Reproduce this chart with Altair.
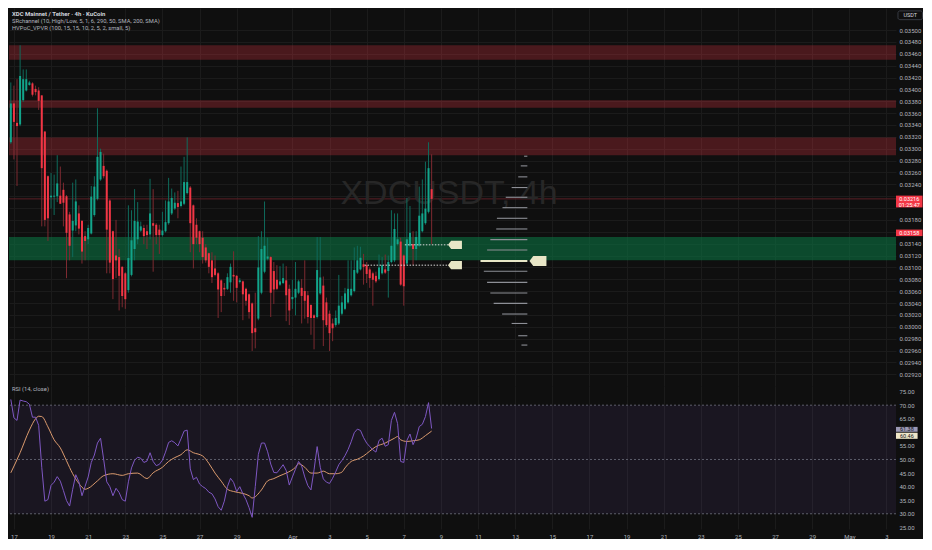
import altair as alt
import pandas as pd

# ---------------- data ----------------
CANDLE_START = "2025-03-16 20:00"   # 4h candles

OPEN = [0.033109, 0.033763, 0.033436, 0.033409, 0.033818, 0.033981, 0.034074, 0.034101, 0.034008, 0.033981,
        0.033899, 0.033289, 0.032537, 0.032182, 0.032193, 0.032199, 0.032209, 0.032308, 0.032199, 0.031893,
        0.031621, 0.031708, 0.031910, 0.031784, 0.031528, 0.031474, 0.031572, 0.031883, 0.032155, 0.032482,
        0.032711, 0.032629, 0.032128, 0.031610, 0.031201, 0.031174, 0.031010, 0.030901, 0.030618, 0.030874,
        0.031310, 0.031474, 0.031621, 0.031665, 0.031610, 0.031556, 0.031746, 0.031719, 0.031637, 0.031545,
        0.031610, 0.031746, 0.031910, 0.031992, 0.032084, 0.032035, 0.032073, 0.032253, 0.032346, 0.032046,
        0.031719, 0.031610, 0.031501, 0.031337, 0.031239, 0.031119, 0.030983, 0.030901, 0.030782, 0.030656,
        0.030639, 0.030749, 0.030874, 0.030858, 0.030754, 0.030765, 0.030640, 0.030547, 0.030394, 0.029975,
        0.030138, 0.030574, 0.030929, 0.031147, 0.031174, 0.030939, 0.030792, 0.030710, 0.030738, 0.030782,
        0.030640, 0.030465, 0.030492, 0.030574, 0.030656, 0.030602, 0.030531, 0.030367, 0.030193, 0.030165,
        0.030563, 0.030694, 0.030411, 0.030220, 0.030056, 0.030029, 0.030056, 0.030220, 0.030302, 0.030411,
        0.030531, 0.030602, 0.030912, 0.030967, 0.031054, 0.031038, 0.030967, 0.030901, 0.030858, 0.030803,
        0.030901, 0.030967, 0.030939, 0.031092, 0.031119, 0.031392, 0.031436, 0.031201, 0.031065, 0.031365,
        0.031392, 0.031310, 0.031365, 0.031610, 0.031746, 0.031937, 0.032319]
HIGH = [0.034117, 0.034063, 0.034172, 0.034744, 0.034336, 0.034336, 0.034145, 0.034120, 0.034063, 0.034036,
        0.033900, 0.033300, 0.032550, 0.032591, 0.032564, 0.032891, 0.032700, 0.032428, 0.032220, 0.031937,
        0.032428, 0.032482, 0.032046, 0.031800, 0.031610, 0.031719, 0.032373, 0.032537, 0.033681, 0.033000,
        0.032918, 0.032650, 0.032150, 0.031620, 0.031801, 0.031310, 0.031020, 0.030920, 0.032046, 0.031964,
        0.032319, 0.032101, 0.031773, 0.031719, 0.031719, 0.032493, 0.032319, 0.031746, 0.031719, 0.031937,
        0.032128, 0.032509, 0.032329, 0.032264, 0.032291, 0.032700, 0.032864, 0.033191, 0.032373, 0.032060,
        0.031828, 0.031620, 0.031610, 0.031392, 0.031250, 0.031256, 0.031201, 0.030920, 0.030800, 0.030738,
        0.030901, 0.031065, 0.031272, 0.030874, 0.030820, 0.030780, 0.030660, 0.030560, 0.030410, 0.030574,
        0.031528, 0.031610, 0.032111, 0.031501, 0.031190, 0.031092, 0.031038, 0.031021, 0.031065, 0.031021,
        0.030710, 0.030792, 0.031092, 0.030792, 0.030803, 0.031119, 0.030602, 0.030380, 0.030210, 0.031512,
        0.031512, 0.030847, 0.030492, 0.030275, 0.030138, 0.030275, 0.030874, 0.030520, 0.030656, 0.031119,
        0.031119, 0.031337, 0.031365, 0.031348, 0.031228, 0.031092, 0.031000, 0.030929, 0.030929, 0.031217,
        0.031174, 0.031217, 0.031201, 0.031964, 0.031910, 0.031910, 0.031501, 0.031220, 0.032171, 0.032035,
        0.031610, 0.031610, 0.032362, 0.032482, 0.032782, 0.033109, 0.032907]
LOW = [0.033082, 0.032820, 0.032373, 0.033380, 0.033790, 0.033965, 0.034063, 0.033880, 0.033900, 0.033654,
       0.031692, 0.031692, 0.031447, 0.031992, 0.031883, 0.032101, 0.032070, 0.031692, 0.030819, 0.031119,
       0.031174, 0.031610, 0.031556, 0.031065, 0.031119, 0.031392, 0.031556, 0.031856, 0.032130, 0.032460,
       0.032500, 0.030901, 0.030901, 0.030465, 0.030819, 0.030275, 0.030329, 0.030302, 0.030575, 0.030850,
       0.031119, 0.031392, 0.031600, 0.031392, 0.031310, 0.031474, 0.030928, 0.031392, 0.031228, 0.031520,
       0.031590, 0.031720, 0.031883, 0.031970, 0.031828, 0.032010, 0.032050, 0.032230, 0.031256, 0.030983,
       0.031392, 0.031256, 0.031065, 0.031080, 0.030901, 0.030738, 0.030850, 0.030149, 0.030247, 0.030519,
       0.030620, 0.030575, 0.030438, 0.030411, 0.030730, 0.030111, 0.030356, 0.030138, 0.029593, 0.029637,
       0.030110, 0.030547, 0.030901, 0.031120, 0.030165, 0.030384, 0.030620, 0.030690, 0.030720, 0.030095,
       0.030029, 0.030302, 0.030193, 0.030550, 0.030056, 0.030138, 0.030056, 0.029866, 0.029620, 0.030140,
       0.030540, 0.029675, 0.030000, 0.029593, 0.029757, 0.030000, 0.030030, 0.030193, 0.030280, 0.030390,
       0.030510, 0.030580, 0.030890, 0.030950, 0.030710, 0.030738, 0.030656, 0.030356, 0.030738, 0.030780,
       0.030880, 0.030890, 0.030492, 0.031070, 0.031090, 0.031370, 0.030690, 0.030356, 0.031040, 0.031340,
       0.031038, 0.031120, 0.031340, 0.031590, 0.031720, 0.031910, 0.031392]
CLOSE = [0.033763, 0.033452, 0.033382, 0.034226, 0.034172, 0.034172, 0.034117, 0.033910, 0.033954, 0.033807,
         0.032673, 0.031801, 0.031828, 0.032209, 0.032209, 0.032416, 0.032073, 0.032090, 0.031583, 0.031365,
         0.031784, 0.032112, 0.031654, 0.031267, 0.031447, 0.031665, 0.032193, 0.032362, 0.032864, 0.032946,
         0.032537, 0.031637, 0.031081, 0.030803, 0.031119, 0.030858, 0.030519, 0.030465, 0.031158, 0.031457,
         0.031784, 0.031773, 0.031692, 0.031528, 0.031545, 0.031910, 0.031703, 0.031545, 0.031545, 0.031621,
         0.031763, 0.032112, 0.032171, 0.032090, 0.032019, 0.032112, 0.032438, 0.032438, 0.031746, 0.031392,
         0.031501, 0.031392, 0.031174, 0.031119, 0.031010, 0.030836, 0.030874, 0.030629, 0.030519, 0.030629,
         0.030836, 0.031010, 0.030847, 0.030656, 0.030782, 0.030547, 0.030438, 0.030247, 0.029893, 0.029909,
         0.031000, 0.031310, 0.031365, 0.031185, 0.030574, 0.030629, 0.030640, 0.030765, 0.030820, 0.030531,
         0.030275, 0.030503, 0.030640, 0.030765, 0.030520, 0.030438, 0.030165, 0.030149, 0.030149, 0.030956,
         0.030831, 0.030111, 0.030029, 0.029893, 0.029975, 0.030149, 0.030356, 0.030411, 0.030563, 0.030640,
         0.030640, 0.030956, 0.031119, 0.031163, 0.031010, 0.030890, 0.030820, 0.030792, 0.030765, 0.031000,
         0.031038, 0.030912, 0.031092, 0.031365, 0.031648, 0.031474, 0.030710, 0.030683, 0.031474, 0.031583,
         0.031310, 0.031512, 0.031872, 0.031910, 0.031992, 0.032673, 0.032155]

RSI = [72.13, 65.34, 64.39, 71.89, 71.53, 71.29, 70.34, 65.58, 65.58, 62.60,
       47.13, 34.63, 35.22, 40.46, 41.65, 43.68, 42.01, 38.56, 34.87, 32.84,
       39.03, 44.39, 41.77, 36.65, 40.10, 43.56, 48.91, 51.65, 56.06, 57.84,
       50.10, 41.77, 39.99, 36.65, 39.39, 37.84, 35.22, 34.63, 41.77, 46.89,
       49.75, 50.82, 50.46, 48.91, 49.39, 52.49, 49.27, 47.72, 48.20, 49.75,
       52.72, 56.29, 56.89, 56.18, 54.99, 57.60, 60.46, 60.82, 46.53, 42.60,
       43.44, 40.94, 39.99, 39.27, 37.96, 37.37, 35.46, 32.60, 31.29, 34.63,
       39.99, 43.08, 41.53, 38.20, 39.99, 37.37, 35.22, 32.25, 28.68, 39.99,
       51.89, 56.06, 56.06, 52.84, 48.32, 45.22, 45.10, 46.53, 48.08, 45.94,
       40.58, 43.56, 46.41, 49.27, 47.60, 43.56, 40.34, 38.79, 46.18, 54.75,
       47.13, 42.84, 41.65, 41.18, 43.08, 45.46, 48.08, 49.63, 51.41, 53.68,
       56.53, 59.87, 61.18, 60.70, 58.08, 56.06, 54.75, 53.56, 52.72, 57.01,
       57.84, 54.87, 55.46, 64.39, 67.37, 63.20, 49.27, 48.91, 57.01, 59.39,
       55.46, 57.84, 62.13, 62.96, 65.82, 70.94, 61.41]

RSI_MA_IDX = [0, 3, 6, 8, 9, 10, 12, 14, 16, 18, 20, 22, 24, 25, 28, 30, 33, 36, 38, 41,
              44, 46, 49, 51, 53, 55, 57, 59, 62, 64, 66, 68, 70, 72, 75, 77, 78, 81, 83, 85,
              87, 89, 92, 93, 95, 97, 99, 101, 103, 105, 107, 108, 110, 112, 114, 116, 118, 121, 122, 124,
              125, 126, 128, 130, 132, 134, 136]
RSI_MA = [45.10, 52.49, 60.82, 64.99, 65.94, 65.82, 62.01, 57.25, 54.27, 49.51, 44.75, 41.18, 39.03, 39.39,
          42.13, 44.03, 44.75, 44.15, 44.75, 44.99, 42.96, 45.10, 47.13, 49.27, 50.70, 51.77, 53.56, 52.49,
          51.29, 48.56, 44.99, 42.01, 39.03, 38.20, 37.49, 36.65, 35.82, 38.79, 42.13, 42.96, 44.03, 44.99,
          47.13, 48.44, 47.13, 44.99, 44.99, 45.70, 44.75, 44.75, 45.34, 46.89, 49.27, 50.10, 51.29, 53.08,
          54.75, 56.06, 56.65, 57.84, 58.44, 57.25, 56.65, 56.89, 57.25, 58.79, 60.46]

# SR channel zones
RES_TOP = [0.034745, 0.033818, 0.033191]
RES_BOT = [0.034500, 0.033692, 0.032890]
SUP_TOP = [0.031512]
SUP_BOT = [0.031119]

# visible-range volume profile (price level, relative volume)
VP_PRICE = [0.032874, 0.032711, 0.032526, 0.032346, 0.032182, 0.032007, 0.031828, 0.031648, 0.031468, 0.031294,
            0.030935, 0.030748, 0.030568, 0.030395, 0.030215, 0.030056, 0.029849, 0.029692]
VP_VOL = [3.3, 6.7, 9.3, 16.0, 22.0, 25.3, 31.0, 31.7, 37.7, 41.0,
          44.3, 41.0, 37.7, 34.3, 25.7, 16.0, 9.3, 6.0]
POC_PRICE = 0.031108
POC_VOL = 47.7

# HVPoC levels (dotted) with tags
LEVEL_PRICE = [0.031381, 0.031038]
LEVEL_START = ["2025-04-07 01:24", "2025-04-04 21:20"]
LEVEL_END = ["2025-04-09 09:16", "2025-04-09 09:16"]
TAG_TIME = ["2025-04-09 18:10", "2025-04-09 18:10"]
POC_TAG_TIME = "2025-04-14 05:28"

LAST_PRICE = 0.032155
LAST_LABEL = ["0.03216", "01:25:47"]
ALT_PRICE_LABEL = "0.03158"
RSI_LABELS = ["61.38", "60.46"]

PRICE_TICKS = [0.0292, 0.0294, 0.0296, 0.0298, 0.0300, 0.0302, 0.0304, 0.0306, 0.0308, 0.0310,
               0.0312, 0.0314, 0.0316, 0.0318, 0.0320, 0.0322, 0.0324, 0.0326, 0.0328, 0.0330,
               0.0332, 0.0334, 0.0336, 0.0338, 0.0340, 0.0342, 0.0344, 0.0346, 0.0348, 0.0350]
RSI_TICKS = [25, 30, 35, 40, 45, 50, 55, 60, 65, 70, 75]
DATE_TICKS = [(3, 17), (3, 19), (3, 21), (3, 23), (3, 25), (3, 27), (3, 29),
              (4, 1), (4, 3), (4, 5), (4, 7), (4, 9), (4, 11), (4, 13), (4, 15), (4, 17),
              (4, 19), (4, 21), (4, 23), (4, 25), (4, 27), (4, 29), (5, 1), (5, 3)]

LEGEND_TITLE = "XDC Mainnet / Tether · 4h · KuCoin"
LEGEND_IND = ["SRchannel (10, High/Low, 5, 1, 6, 290, 50, SMA, 200, SMA)",
              "HVPoC_VPVR (100, 15, 15, 10, 2, 5, 2, small, 5)"]

# ---------------- layout / style ----------------
W, H1, H2 = 887, 378, 143
P_DOM = [0.0290023, 0.0353712]
R_DOM = [24.39, 77.07]
T0, T1 = "2025-03-16 17:39", "2025-05-03 12:19"
XDOM = [alt.DateTime(year=2025, month=3, date=16, hours=17, minutes=39),
        alt.DateTime(year=2025, month=5, date=3, hours=12, minutes=19)]
XTICKS = [alt.DateTime(year=2025, month=m, date=d) for m, d in DATE_TICKS]

FONT = "Roboto"
LAB = "#b2b5be"
GRID = "#1b1b1b"
UP, DOWN = "#12a58b", "#f23645"
UP_W, DOWN_W = "#0f6b5c", "#7d2a31"

price_axis = alt.Axis(orient="right", values=PRICE_TICKS, format=".5f", labelFontSize=6,
                      labelExpr="(datum.value == 0.0322 || datum.value == 0.032 || datum.value == 0.0316) ? '' : datum.label",
                      labelColor=LAB, labelFont=FONT, ticks=False, domain=False, grid=True,
                      gridColor=GRID, labelPadding=3, title=None)
rsi_axis = alt.Axis(orient="right", values=RSI_TICKS, format=".2f", labelFontSize=6,
                    labelExpr="datum.value == 60 ? '' : datum.label",
                    labelColor=LAB, labelFont=FONT, ticks=False, domain=False, grid=False,
                    labelPadding=3, title=None)
x_main_axis = alt.Axis(values=XTICKS, labels=False, ticks=False, domain=False, grid=True,
                       gridColor=GRID, title=None)
x_rsi_axis = alt.Axis(values=XTICKS,
                      labelExpr="date(datum.value) == 1 ? timeFormat(datum.value, '%b') : timeFormat(datum.value, '%-d')",
                      labelFontSize=6, labelColor=LAB, labelFont=FONT, ticks=False, domain=False,
                      grid=True, gridColor=GRID, labelPadding=4, labelOverlap=False,
                      labelFlush=False, title=None)


def XM(f):
    return alt.X(f, type="temporal", scale=alt.Scale(domain=XDOM, padding=0, nice=False), axis=x_main_axis)


def XR(f):
    return alt.X(f, type="temporal", scale=alt.Scale(domain=XDOM, padding=0, nice=False), axis=x_rsi_axis)


def YP(f):
    return alt.Y(f, type="quantitative", scale=alt.Scale(domain=P_DOM, nice=False, zero=False, padding=0),
                 axis=price_axis)


def YR(f):
    return alt.Y(f, type="quantitative", scale=alt.Scale(domain=R_DOM, nice=False, zero=False, padding=0),
                 axis=rsi_axis)


# ---------------- tables ----------------
times = pd.date_range(CANDLE_START, periods=len(OPEN), freq="4h")
cdf = pd.DataFrame({"t": times, "o": OPEN, "h": HIGH, "l": LOW, "c": CLOSE})
cdf["h"] = cdf[["h", "o", "c"]].max(axis=1)
cdf["l"] = cdf[["l", "o", "c"]].min(axis=1)
up_df = cdf[cdf["c"] >= cdf["o"]]
dn_df = cdf[cdf["c"] < cdf["o"]]

res_df = pd.DataFrame({"x0": pd.to_datetime([T0] * 3), "x1": pd.to_datetime([T1] * 3),
                       "top": RES_TOP, "bot": RES_BOT})
sup_df = pd.DataFrame({"x0": pd.to_datetime([T0]), "x1": pd.to_datetime([T1]),
                       "top": SUP_TOP, "bot": SUP_BOT})

vdf = pd.DataFrame({"p": VP_PRICE, "vol": VP_VOL, "zero": [0.0] * len(VP_VOL)})
pocv = pd.DataFrame({"p": [POC_PRICE], "vol": [POC_VOL], "zero": [0.0]})

ldf = pd.DataFrame({"x0": pd.to_datetime(LEVEL_START), "x1": pd.to_datetime(LEVEL_END), "p": LEVEL_PRICE})
tdf = pd.DataFrame({"t": pd.to_datetime(TAG_TIME), "p": LEVEL_PRICE})
pocdf = pd.DataFrame({"t": pd.to_datetime([POC_TAG_TIME]), "p": [POC_PRICE]})

leg1 = pd.DataFrame({"t": pd.to_datetime(["2025-03-16 21:28"]), "p": [0.035273], "txt": [LEGEND_TITLE]})
leg2 = pd.DataFrame({"t": pd.to_datetime(["2025-03-16 21:28"] * 2), "p": [0.035154, 0.035033],
                     "txt": LEGEND_IND})

boxdf = pd.DataFrame({"x0": pd.to_datetime(["2025-05-03 12:19", "2025-05-03 12:19"]),
                      "x1": pd.to_datetime(["2025-05-04 22:36", "2025-05-04 22:36"]),
                      "top": [0.032210, 0.031638], "bot": [0.032011, 0.031528]})
boxtxt = pd.DataFrame({"t": pd.to_datetime(["2025-05-04 05:28"] * 3),
                       "p": [0.032160, 0.032060, 0.031582],
                       "txt": [LAST_LABEL[0], LAST_LABEL[1], ALT_PRICE_LABEL]})
usdt_box = pd.DataFrame({"x0": pd.to_datetime(["2025-05-03 14:51"]), "x1": pd.to_datetime(["2025-05-04 22:36"]),
                         "top": [0.035322], "bot": [0.035175]})
usdt_txt = pd.DataFrame({"t": pd.to_datetime(["2025-05-04 06:43"]), "p": [0.035249], "txt": ["USDT"]})
wm = pd.DataFrame({"t": pd.to_datetime(["2025-04-09 10:34"]), "p": [0.032230], "txt": ["XDCUSDT, 4h"]})

# ---------------- main pane ----------------
res_z = alt.Chart(res_df).mark_rect(color="#f23645", opacity=0.26).encode(
    x=XM("x0"), x2="x1", y=YP("top"), y2="bot")
sup_z = alt.Chart(sup_df).mark_rect(color="#0a7a45", opacity=0.56).encode(
    x=XM("x0"), x2="x1", y=YP("top"), y2="bot")
pline = alt.Chart(pd.DataFrame({"p": [LAST_PRICE]})).mark_rule(color="#5c1f25", strokeWidth=1).encode(y=YP("p"))
water = alt.Chart(wm).mark_text(font="Liberation Sans", fontSize=34, color="#272727",
                                align="center", baseline="middle").encode(x=XM("t"), y=YP("p"), text="txt:N")
wick_up = alt.Chart(up_df).mark_rule(strokeWidth=1, color=UP_W).encode(x=XM("t"), y=YP("l"), y2="h")
wick_dn = alt.Chart(dn_df).mark_rule(strokeWidth=1, color=DOWN_W).encode(x=XM("t"), y=YP("l"), y2="h")
body_up = alt.Chart(up_df).mark_bar(size=2, color=UP).encode(x=XM("t"), y=YP("o"), y2="c")
body_dn = alt.Chart(dn_df).mark_bar(size=2, color=DOWN).encode(x=XM("t"), y=YP("o"), y2="c")
levels = alt.Chart(ldf).mark_rule(color="#d8d8d8", strokeWidth=1, strokeDash=[1.5, 1.5]).encode(
    x=XM("x0"), x2="x1", y=YP("p"))
TAG_SHAPE = "M -1 0 L -0.55 -0.59 L 1 -0.59 L 1 0.59 L -0.55 0.59 Z"
tags = alt.Chart(tdf).mark_point(shape=TAG_SHAPE, filled=True, size=196, color="#e8e6c6", opacity=1).encode(
    x=XM("t"), y=YP("p"))
poc_tag = alt.Chart(pocdf).mark_point(shape=TAG_SHAPE, filled=True, size=289, color="#e8e6c6", opacity=1).encode(
    x=XM("t"), y=YP("p"))
legend1 = alt.Chart(leg1).mark_text(font=FONT, fontSize=6, fontWeight="bold", color="#d1d4dc",
                                    align="left", baseline="middle").encode(x=XM("t"), y=YP("p"), text="txt:N")
legend2 = alt.Chart(leg2).mark_text(font=FONT, fontSize=5.8, color=LAB,
                                    align="left", baseline="middle").encode(x=XM("t"), y=YP("p"), text="txt:N")
boxes = alt.Chart(boxdf).mark_rect(color=DOWN).encode(x=XM("x0"), x2="x1", y=YP("top"), y2="bot")
box_text = alt.Chart(boxtxt).mark_text(font=FONT, fontSize=5.5, color="#ffffff", align="center",
                                       baseline="middle").encode(x=XM("t"), y=YP("p"), text="txt:N")
ubox = alt.Chart(usdt_box).mark_rect(fill="#0f0f0f", stroke="#434651", strokeWidth=0.8, cornerRadius=2).encode(
    x=XM("x0"), x2="x1", y=YP("top"), y2="bot")
utxt = alt.Chart(usdt_txt).mark_text(font=FONT, fontSize=5.5, color="#d1d4dc", align="center",
                                     baseline="middle").encode(x=XM("t"), y=YP("p"), text="txt:N")

time_layer = alt.layer(res_z, sup_z, pline, water, wick_up, wick_dn, body_up, body_dn, levels, tags,
                       poc_tag, legend1, legend2, boxes, box_text, ubox, utxt)

VP_X = alt.Scale(domain=[-375.3, 527.7], reverse=True, nice=False, zero=False, padding=0)
vp_rows = alt.Chart(vdf).mark_rule(color="#8d8f96", strokeWidth=1.1).encode(
    x=alt.X("vol:Q", scale=VP_X, axis=None), x2="zero", y=YP("p"))
vp_poc = alt.Chart(pocv).mark_rule(color="#e8e6c6", strokeWidth=1.8).encode(
    x=alt.X("vol:Q", scale=VP_X, axis=None), x2="zero", y=YP("p"))
vp_layer = alt.layer(vp_rows, vp_poc)

main = alt.layer(time_layer, vp_layer).resolve_scale(x="independent").properties(width=W, height=H1)

# ---------------- RSI pane ----------------
rdf = pd.DataFrame({"t": times, "rsi": RSI})
mdf = pd.DataFrame({"t": times[RSI_MA_IDX], "ma": RSI_MA})

band = alt.Chart(pd.DataFrame({"x0": pd.to_datetime([T0]), "x1": pd.to_datetime([T1]),
                               "lo": [30], "hi": [70]})).mark_rect(color="#7e57c2", opacity=0.1).encode(
    x=XR("x0"), x2="x1", y=YR("lo"), y2="hi")
hl = alt.Chart(pd.DataFrame({"v": [70, 50, 30]})).mark_rule(color="#5d5e6a", strokeWidth=1,
                                                           strokeDash=[2, 2]).encode(y=YR("v"))
ma_line = alt.Chart(mdf).mark_line(color="#dc9b6e", strokeWidth=1, interpolate="monotone").encode(
    x=XR("t"), y=YR("ma"))
rsi_line = alt.Chart(rdf).mark_line(color="#7e57c2", strokeWidth=1).encode(x=XR("t"), y=YR("rsi"))
rsi_title = alt.Chart(pd.DataFrame({"t": pd.to_datetime(["2025-03-16 21:28"]), "v": [75.8],
                                    "txt": ["RSI (14, close)"]})).mark_text(
    font=FONT, fontSize=5.8, color=LAB, align="left", baseline="middle").encode(x=XR("t"), y=YR("v"), text="txt:N")
rbox_rsi = alt.Chart(pd.DataFrame({"x0": pd.to_datetime(["2025-05-03 12:19"]),
                                   "x1": pd.to_datetime(["2025-05-04 16:15"]),
                                   "top": [62.0], "bot": [60.21]})).mark_rect(color="#9b98b5").encode(
    x=XR("x0"), x2="x1", y=YR("top"), y2="bot")
rbox_ma = alt.Chart(pd.DataFrame({"x0": pd.to_datetime(["2025-05-03 12:19"]),
                                  "x1": pd.to_datetime(["2025-05-04 16:15"]),
                                  "top": [59.86], "bot": [57.61]})).mark_rect(color="#efe6c8").encode(
    x=XR("x0"), x2="x1", y=YR("top"), y2="bot")
rbox_txt = alt.Chart(pd.DataFrame({"t": pd.to_datetime(["2025-05-04 02:24"] * 2), "v": [61.1, 58.73],
                                   "txt": RSI_LABELS})).mark_text(
    font=FONT, fontSize=5.5, color="#131722", align="center", baseline="middle").encode(
    x=XR("t"), y=YR("v"), text="txt:N")

rsi = alt.layer(band, hl, ma_line, rsi_line, rsi_title, rbox_rsi, rbox_ma, rbox_txt).properties(width=W, height=H2)

chart = alt.vconcat(main, rsi, spacing=0, padding={"left": 0, "top": 0, "right": 0, "bottom": 0}).configure(
    background="#0f0f0f").configure_view(stroke=None)

chart.save("out.html", embed_options={"renderer": "svg", "actions": False})
